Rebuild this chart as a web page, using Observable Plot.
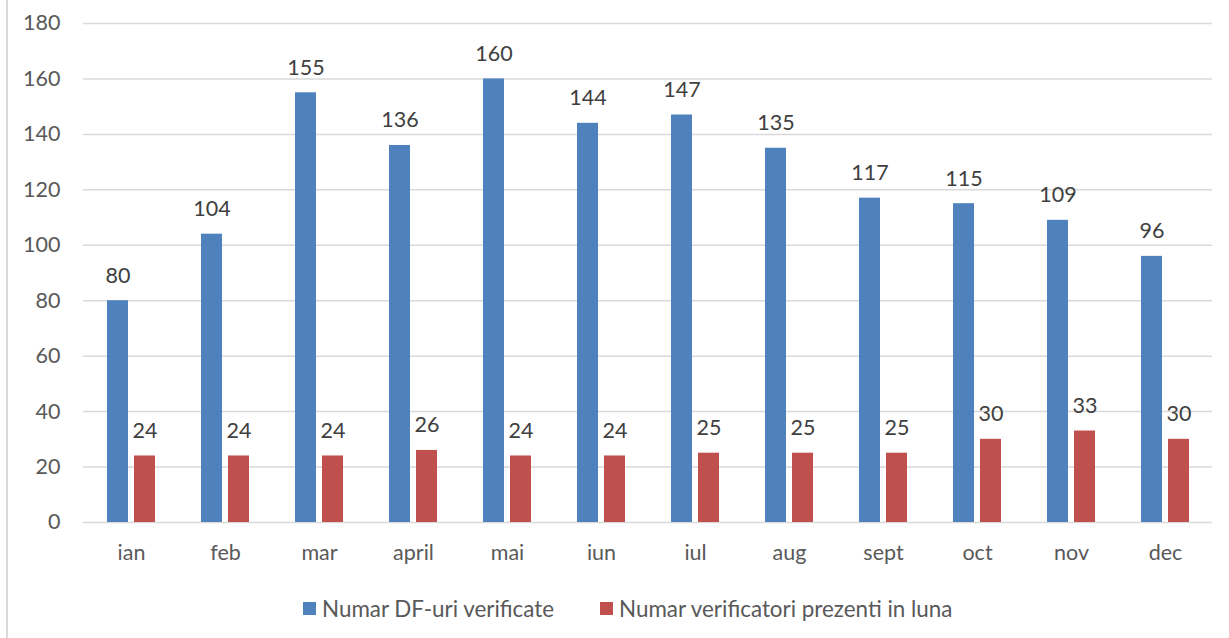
<!DOCTYPE html>
<html>
<head>
<meta charset="utf-8">
<script src="https://cdn.jsdelivr.net/npm/d3@7"></script>
<script src="https://cdn.jsdelivr.net/npm/@observablehq/plot@0.6"></script>
<style>
  html, body { margin: 0; padding: 0; background: #fff; }
  body { width: 1229px; height: 638px; position: relative; overflow: hidden; font-family: Lato, sans-serif; color: #595959; }
  #frame { position: absolute; left: 6px; top: -2px; width: 1240px; height: 700px; border: 2px solid #d9d9d9; box-sizing: border-box; }
  #chart { position: absolute; left: 0; top: 0; }
  #legend { position: absolute; left: 0; top: 594px; width: 1229px; height: 28px; font-size: 22.4px; color: #595959; }
  .item { position: absolute; top: 0; height: 28px; display: flex; align-items: center; white-space: nowrap; }
  .sw { width: 13px; height: 13px; margin-right: 6px; }
</style>
</head>
<body>
<div id="frame"></div>
<div id="chart"></div>
<div id="legend"></div>
<script>
const months = ["ian","feb","mar","april","mai","iun","iul","aug","sept","oct","nov","dec"];
const dfVerificate = [80,104,155,136,160,144,147,135,117,115,109,96];
const verificatori = [24,24,24,26,24,24,25,25,25,30,33,30];
const seriesNames = ["Numar DF-uri verificate","Numar verificatori prezenti in luna"];
const colors = ["#4F81BD","#C0504D"];
const yTicks = [0,20,40,60,80,100,120,140,160,180];
const legendLeft = [303, 600];

const blue = months.map((m,i)=>({month:m, value:dfVerificate[i]}));
const red = months.map((m,i)=>({month:m, value:verificatori[i]}));

const W = 1229, H = 580;
const plot = Plot.plot({
  width: W, height: H,
  marginTop: 23, marginBottom: 58, marginLeft: 83, marginRight: 17,
  style: {fontFamily: "Lato, sans-serif", fontSize: "21.5px", color: "#595959", background: "transparent"},
  x: {domain: months, padding: 0, label: null, tickSize: 0, tickPadding: 22},
  y: {domain: [0,180], ticks: yTicks, label: null, tickSize: 0, tickPadding: 23},
  marks: [
    Plot.ruleY(yTicks, {stroke: "#d9d9d9", strokeWidth: 1.5}),
    Plot.barY(blue, {x: "month", y: "value", fill: colors[0], insetLeft: 23, insetRight: 50}),
    Plot.barY(red, {x: "month", y: "value", fill: colors[1], insetLeft: 50, insetRight: 23}),
    Plot.text(blue, {x: "month", y: "value", text: d => String(d.value), dx: -13.5, dy: -18, lineAnchor: "bottom", fill: "#404040", fontSize: 21.5}),
    Plot.text(red, {x: "month", y: "value", text: d => String(d.value), dx: 13.5, dy: -18, lineAnchor: "bottom", fill: "#404040", fontSize: 21.5})
  ]
});
document.getElementById("chart").appendChild(plot);

const legend = document.getElementById("legend");
seriesNames.forEach((n,i)=>{
  const it = document.createElement("div"); it.className = "item"; it.style.left = legendLeft[i] + "px";
  const sw = document.createElement("div"); sw.className = "sw"; sw.style.background = colors[i];
  const t = document.createElement("span"); t.textContent = n;
  it.appendChild(sw); it.appendChild(t); legend.appendChild(it);
});
</script>
</body>
</html>
